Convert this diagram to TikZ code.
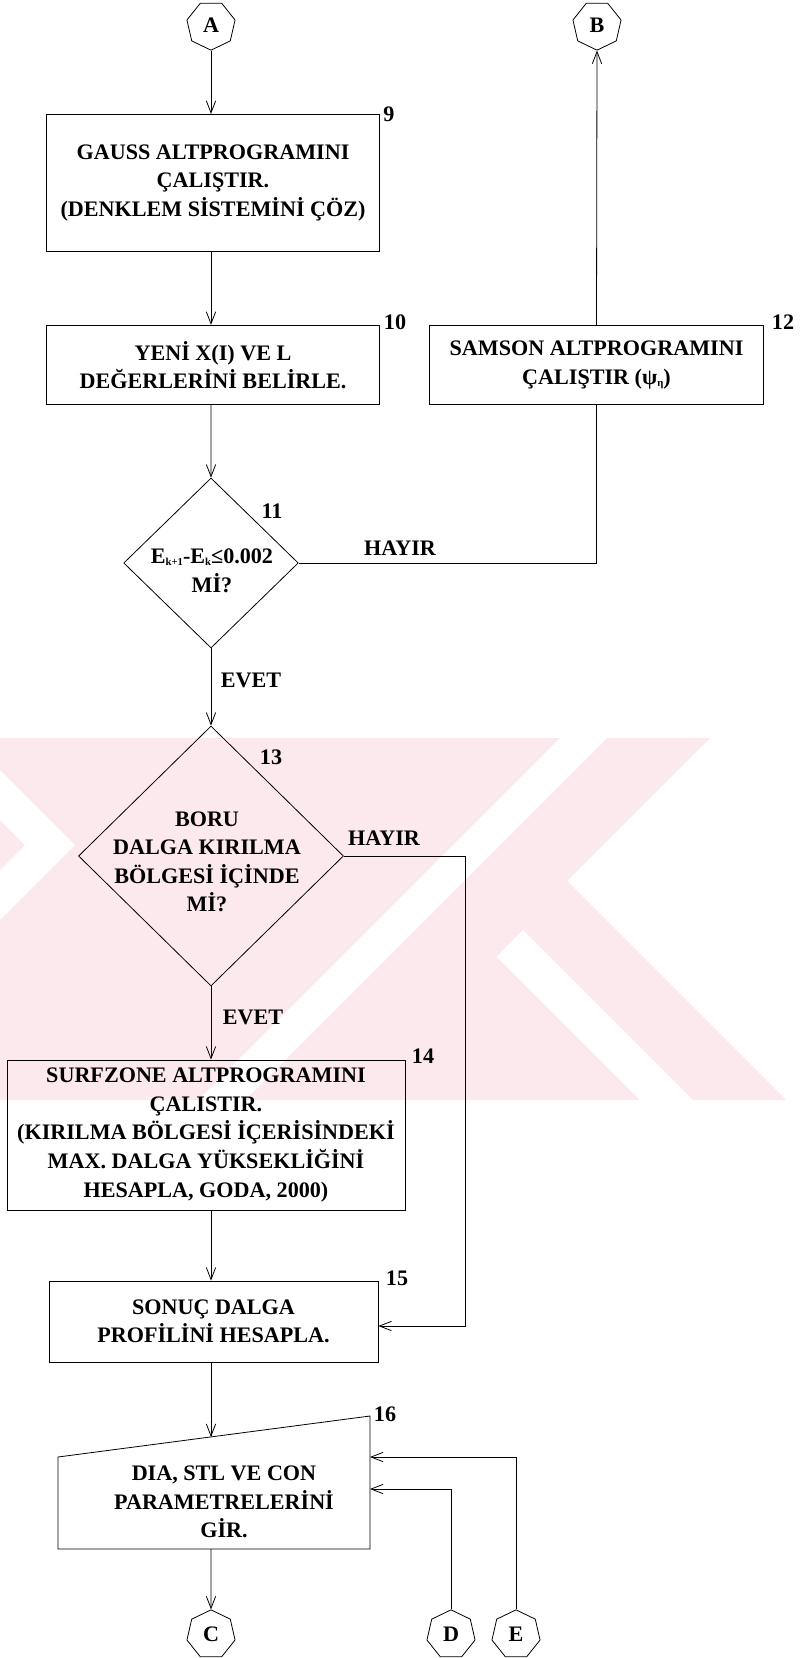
\documentclass[tikz,border=0pt]{standalone}
\usepackage{fontspec}
\setmainfont{Liberation Serif}
\usetikzlibrary{shapes.geometric,arrows.meta,calc}
\definecolor{wm}{RGB}{252,233,238}
\begin{document}
\begin{tikzpicture}[x=0.75pt,y=-0.75pt,
  every node/.style={font=\fontsize{16.6pt}{21.4pt}\selectfont\bfseries},
  box/.style={draw, line width=0.6pt, inner sep=0pt, align=center},
  dia/.style={draw, diamond, line width=0.6pt, inner sep=0pt},
  conn/.style={draw, regular polygon, regular polygon sides=7, minimum size=37pt, inner sep=0pt, line width=0.6pt},
  arr/.style={-{Straight Barb[length=9pt,width=7pt]}, line width=0.6pt},
  line/.style={line width=0.6pt},
  txt/.style={align=center, inner sep=0pt}]
\useasboundingbox (0,0) rectangle (800,1658);
% watermark
\fill[wm] (0,738) -- (710,738) -- (567,881) -- (786,1100) -- (0,1100) -- cycle;
\fill[white] (560,738) -- (607,738) -- (245,1100) -- (198,1100) -- cycle;
\fill[white] (523,930) -- (693,1100) -- (640,1100) -- (496.5,956.5) -- cycle;
\fill[white] (0,770) -- (75,845) -- (0,920) -- (0,870) -- (25,845) -- (0,820) -- cycle;

% connectors (off-page)
\node[conn, shape border rotate=180] (A) at (211,25.5) {A};
\node[conn, shape border rotate=180] (B) at (597,25.5) {B};
\node[conn] (C) at (211,1634.5) {C};
\node[conn] (D) at (451,1634.5) {D};
\node[conn] (E) at (516,1634.5) {E};

% boxes
\node[box, minimum width=250pt, minimum height=103pt] (b9) at (213,183) {GAUSS ALTPROGRAMINI\\ÇALIŞTIR.\\ (DENKLEM SİSTEMİNİ ÇÖZ)};
\node[box, minimum width=250pt, minimum height=59.6pt] (b10) at (213,365) {YENİ X(I) VE L\\DEĞERLERİNİ BELİRLE.};
\node[box, minimum width=250pt, minimum height=59.6pt] (b12) at (596.5,365) {SAMSON ALTPROGRAMINI\\ÇALIŞTIR (ψ{\fontsize{8pt}{8pt}\selectfont\raisebox{-1.5pt}{η}})};
\node[dia, minimum width=131pt, minimum height=127.5pt] (d11) at (211,563) {};
\node[txt] (t11) at (212,571) {E{\fontsize{8pt}{8pt}\selectfont\raisebox{-1.5pt}{k+1}}-E{\fontsize{8pt}{8pt}\selectfont\raisebox{-1.5pt}{k}}≤0.002\\Mİ?};
\node[dia, minimum width=198.75pt, minimum height=195pt] (d13) at (211,856) {};
\node[txt] (t13) at (207,862) {BORU\\DALGA KIRILMA\\BÖLGESİ İÇİNDE\\Mİ?};
\node[box, minimum width=298.5pt, minimum height=112.5pt] (b14) at (206,1135) {SURFZONE ALTPROGRAMINI\\ÇALISTIR.\\(KIRILMA BÖLGESİ İÇERİSİNDEKİ\\MAX. DALGA YÜKSEKLİĞİNİ\\HESAPLA, GODA, 2000)};
\node[box, minimum width=246.75pt, minimum height=60.75pt] (b15) at (213.5,1321.5) {SONUÇ DALGA\\PROFİLİNİ HESAPLA.};
% manual input box 16
\coordinate (p16a) at (58,1457);
\coordinate (p16b) at (370,1416);
\coordinate (p16c) at (370,1549);
\coordinate (p16d) at (58,1549);
\draw[line] (p16a) -- (p16b) -- (p16c) -- (p16d) -- cycle;
\node[txt] (t16) at (224,1502) {DIA, STL VE CON\\PARAMETRELERİNİ\\GİR.};

% step numbers
\node (n9) at (389,114) {9};
\node (n10) at (395,322) {10};
\node (n12) at (783,322) {12};
\node (n11) at (272,511) {11};
\node (n13) at (271,757) {13};
\node (n14) at (423,1056) {14};
\node (n15) at (397,1278) {15};
\node (n16) at (385,1414) {16};

% labels
\node (h11) at (400,548) {HAYIR};
\node (e11) at (251,680) {EVET};
\node (h13) at (384,838) {HAYIR};
\node (e13) at (253,1017) {EVET};

% flow lines
\draw[arr] (A.south) -- (A.south |- b9.north);
\draw[arr] (A.south |- b9.south) -- (A.south |- b10.north);
\draw[arr] (A.south |- b10.south) -- (d11.north);
\draw[line] (d11.east) -- (d11.east -| b12.south) -- (b12.south);
\draw[arr] (b12.north) -- (B.south);
\draw[arr] (d11.south) -- (d13.north);
\draw[arr] (d13.south) -- (d13.south |- b14.north);
\coordinate (r13) at (465,1326);
\draw[arr] (d13.east) -| (r13) -- (r13 -| b15.east);
\draw[arr] (d13.south |- b14.south) -- (d13.south |- b15.north);
\coordinate (in16) at (211,1437);
\draw[arr] (d13.south |- b15.south) -- (in16);
\coordinate (bot16) at (211,1549);
\draw[arr] (bot16) -- (C.north);
\coordinate (r16a) at (370,1457);
\coordinate (r16b) at (370,1489);
\draw[arr] (E.north) |- (r16a);
\draw[arr] (D.north) |- (r16b);
\end{tikzpicture}
\end{document}
